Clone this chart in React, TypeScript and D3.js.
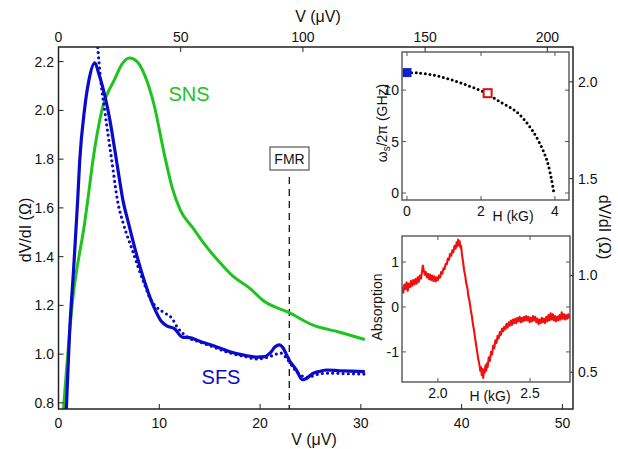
import React from 'react';
import * as d3 from 'd3';

// ---------- main data (V in µV, dV/dI in Ω) ----------
const snsV = [0.35, 0.5, 1.4, 2.6, 2.9, 3.4, 4.3, 5.6, 6.3, 7.05, 7.8, 8.5, 9.5, 10.5, 11.3, 12.1, 13.3, 14.5, 15.7, 17.3, 19.0, 20.3, 22.9, 25.2, 27.9, 30.4];
const snsR = [0.70, 0.78, 1.22, 1.54, 1.63, 1.79, 2.0, 2.13, 2.19, 2.215, 2.20, 2.15, 2.02, 1.82, 1.68, 1.59, 1.52, 1.45, 1.39, 1.32, 1.27, 1.22, 1.17, 1.12, 1.09, 1.06];

const sfsV = [0.7, 1.1, 1.5, 1.9, 2.1, 2.6, 3.0, 3.6, 4.0, 4.6, 5.1, 5.5, 6.0, 6.4, 6.9, 7.8, 8.6, 9.5, 10.2, 10.8, 11.5, 12.3, 13.0, 14.2, 15.0, 17.0, 18.5, 19.7, 20.5, 21.0, 21.5, 21.9, 22.2, 22.9, 23.6, 24.2, 24.6, 25.2, 26.0, 26.6, 27.9, 29.0, 30.4];
const sfsR = [0.70, 1.09, 1.35, 1.63, 1.79, 2.01, 2.12, 2.195, 2.15, 2.06, 1.96, 1.86, 1.73, 1.63, 1.545, 1.40, 1.29, 1.19, 1.135, 1.115, 1.105, 1.07, 1.068, 1.05, 1.04, 1.01, 0.995, 0.988, 0.99, 1.005, 1.03, 1.038, 1.03, 0.975, 0.935, 0.895, 0.90, 0.92, 0.93, 0.935, 0.932, 0.93, 0.928];

const fitV = [3.85, 4.2, 4.6, 5.3, 5.9, 6.4, 7.3, 8.5, 9.2, 9.8, 10.5, 11.2, 11.8, 12.8, 14.0, 15.0, 17.0, 18.5, 19.7, 20.5, 21.3, 22.0, 22.6, 23.2, 24.0, 24.6, 25.2, 26.0, 27.0, 28.5, 30.4];
const fitR = [2.28, 2.12, 1.995, 1.79, 1.62, 1.54, 1.43, 1.29, 1.22, 1.19, 1.17, 1.15, 1.11, 1.07, 1.05, 1.035, 1.005, 0.99, 0.98, 0.985, 0.995, 1.005, 0.985, 0.95, 0.915, 0.905, 0.91, 0.92, 0.922, 0.92, 0.918];

const fmrV = 22.9;

const bottomTicks = [0, 10, 20, 30, 40, 50];
const topTicks = [0, 50, 100, 150, 200];
const leftTicks = [0.8, 1.0, 1.2, 1.4, 1.6, 1.8, 2.0, 2.2];
const rightTicks = [0.5, 1.0, 1.5, 2.0];

// ---------- inset 1: spin-wave frequency vs H ----------
const omH = [0, 0.26, 0.71, 1.16, 1.61, 2.06, 2.51, 2.96, 3.32, 3.59, 3.78, 3.91, 3.97];
const omF = [11.68, 11.68, 11.46, 11.04, 10.49, 9.84, 8.87, 7.89, 6.44, 4.82, 3.2, 1.26, 0];
const blueSq = [0, 11.7];
const redSq = [2.18, 9.7];
const in1XTicks = [0, 2, 4];
const in1YTicks = [0, 5, 10];

// ---------- inset 2: FMR absorption vs H ----------
const absH = [1.805, 1.812, 1.818, 1.824, 1.830, 1.836, 1.842, 1.848, 1.854, 1.860, 1.866, 1.872, 1.878, 1.884, 1.890, 1.896, 1.902, 1.908, 1.914, 1.918, 1.922, 1.928, 1.934, 1.940, 1.946, 1.952, 1.958, 1.964, 1.970, 1.976, 1.982, 1.988, 1.994, 2.000, 2.006, 2.012, 2.018, 2.024, 2.030, 2.036, 2.042, 2.048, 2.054, 2.060, 2.066, 2.072, 2.078, 2.084, 2.090, 2.096, 2.102, 2.106, 2.110, 2.114, 2.118, 2.122, 2.126, 2.130, 2.136, 2.142, 2.148, 2.154, 2.160, 2.166, 2.172, 2.178, 2.184, 2.190, 2.196, 2.202, 2.208, 2.214, 2.220, 2.226, 2.230, 2.234, 2.238, 2.242, 2.246, 2.250, 2.254, 2.258, 2.262, 2.266, 2.270, 2.276, 2.282, 2.288, 2.294, 2.300, 2.306, 2.312, 2.318, 2.324, 2.330, 2.336, 2.342, 2.348, 2.354, 2.360, 2.366, 2.372, 2.378, 2.384, 2.390, 2.396, 2.402, 2.408, 2.414, 2.420, 2.426, 2.432, 2.438, 2.444, 2.450, 2.456, 2.462, 2.468, 2.474, 2.480, 2.486, 2.492, 2.498, 2.504, 2.510, 2.516, 2.522, 2.528, 2.534, 2.540, 2.546, 2.552, 2.558, 2.564, 2.570, 2.576, 2.582, 2.588, 2.594, 2.600, 2.606, 2.612, 2.618, 2.624, 2.630, 2.636, 2.642, 2.648, 2.654, 2.660, 2.666, 2.672, 2.678, 2.684, 2.690, 2.696, 2.702, 2.708, 2.714, 2.717];
const absA = [0.45, 0.32, 0.50, 0.40, 0.55, 0.36, 0.52, 0.44, 0.58, 0.47, 0.60, 0.50, 0.62, 0.52, 0.66, 0.56, 0.70, 0.63, 0.80, 0.92, 0.84, 0.72, 0.78, 0.66, 0.74, 0.62, 0.72, 0.60, 0.70, 0.58, 0.68, 0.57, 0.66, 0.60, 0.70, 0.66, 0.78, 0.74, 0.86, 0.84, 0.96, 0.95, 1.08, 1.05, 1.18, 1.14, 1.26, 1.22, 1.36, 1.30, 1.44, 1.35, 1.50, 1.38, 1.46, 1.32, 1.36, 1.18, 1.02, 0.82, 0.70, 0.52, 0.42, 0.22, 0.12, -0.06, -0.20, -0.38, -0.52, -0.70, -0.86, -1.02, -1.18, -1.30, -1.42, -1.34, -1.52, -1.38, -1.58, -1.40, -1.46, -1.30, -1.42, -1.26, -1.34, -1.12, -1.20, -1.00, -1.06, -0.86, -0.92, -0.74, -0.80, -0.64, -0.70, -0.56, -0.62, -0.48, -0.54, -0.44, -0.50, -0.38, -0.46, -0.34, -0.42, -0.30, -0.40, -0.28, -0.36, -0.26, -0.36, -0.24, -0.32, -0.22, -0.34, -0.24, -0.32, -0.22, -0.30, -0.20, -0.30, -0.22, -0.34, -0.24, -0.32, -0.20, -0.30, -0.22, -0.34, -0.26, -0.38, -0.28, -0.36, -0.24, -0.34, -0.26, -0.36, -0.22, -0.32, -0.18, -0.30, -0.14, -0.28, -0.16, -0.30, -0.20, -0.32, -0.22, -0.30, -0.18, -0.28, -0.12, -0.26, -0.16, -0.28, -0.18, -0.26, -0.16, -0.24, -0.20];
const in2XTicks = [2.0, 2.5];
const in2YTicks = [-1, 0, 1];

const GREEN = '#1ec41e';
const BLUE = '#0a0acb';
const RED = '#f01010';
const FONT = "'Liberation Sans', Arial, Helvetica, sans-serif";

function zip(a: number[], b: number[]): [number, number][] {
  return a.map((v, i) => [v, b[i]] as [number, number]);
}

export default function App() {
  const W = 618, H = 449;
  const L = 58.5, R = 573, T = 47, B = 409;

  const x = d3.scaleLinear().domain([0, 51.05]).range([L, R]);
  const xTop = d3.scaleLinear().domain([0, 210.5]).range([L, R]);
  const y = d3.scaleLinear().domain([0.775, 2.26]).range([B, T]);
  const yR = d3.scaleLinear().domain([0.31, 2.18]).range([B, T]);

  const line = d3.line<[number, number]>().x(d => x(d[0])).y(d => y(d[1])).curve(d3.curveMonotoneX);

  // inset 1
  const i1 = { l: 402, r: 569, t: 52, b: 200 };
  const x1 = d3.scaleLinear().domain([-0.135, 4.38]).range([i1.l, i1.r]);
  const y1 = d3.scaleLinear().domain([-0.68, 13.7]).range([i1.b, i1.t]);
  const line1 = d3.line<[number, number]>().x(d => x1(d[0])).y(d => y1(d[1])).curve(d3.curveCatmullRom);

  // inset 2
  const i2 = { l: 402, r: 570, t: 236, b: 382 };
  const x2 = d3.scaleLinear().domain([1.805, 2.717]).range([i2.l, i2.r]);
  const y2 = d3.scaleLinear().domain([-1.67, 1.58]).range([i2.b, i2.t]);
  const line2 = d3.line<[number, number]>().x(d => x2(d[0])).y(d => y2(d[1]));

  const tk = 5;
  const axisColor = '#222';
  const insetColor = '#555';

  return (
    <svg width={W} height={H} style={{ position: 'absolute', left: 0, top: 0, background: '#fff' }} fontFamily={FONT}>
      <defs>
        <clipPath id="mainClip"><rect x={L} y={T} width={R - L} height={B - T} /></clipPath>
        <clipPath id="in1Clip"><rect x={i1.l} y={i1.t} width={i1.r - i1.l} height={i1.b - i1.t} /></clipPath>
        <clipPath id="in2Clip"><rect x={i2.l} y={i2.t} width={i2.r - i2.l} height={i2.b - i2.t} /></clipPath>
      </defs>

      {/* main curves */}
      <g clipPath="url(#mainClip)">
        <line x1={x(fmrV)} x2={x(fmrV)} y1={177} y2={B} stroke="#111" strokeWidth={1.3} strokeDasharray="7 5" />
        <path d={line(zip(snsV, snsR)) || ''} fill="none" stroke={GREEN} strokeWidth={3} strokeLinejoin="round" />
        <path d={line(zip(fitV, fitR)) || ''} fill="none" stroke={BLUE} strokeWidth={3.2} strokeDasharray="0 5.2" strokeLinecap="round" />
        <path d={line(zip(sfsV, sfsR)) || ''} fill="none" stroke={BLUE} strokeWidth={3.2} strokeLinejoin="round" />
      </g>

      {/* FMR box */}
      <rect x={270} y={147} width={39} height={23} fill="#fff" stroke="#555" strokeWidth={1.2} />
      <text x={289.5} y={164} textAnchor="middle" fontSize={14} fill="#111">FMR</text>

      {/* curve labels */}
      <text x={189} y={101} textAnchor="middle" fontSize={20} fill={GREEN}>SNS</text>
      <text x={221} y={384} textAnchor="middle" fontSize={20} fill={BLUE}>SFS</text>

      {/* main frame */}
      <rect x={L} y={T} width={R - L} height={B - T} fill="none" stroke={axisColor} strokeWidth={1.5} />

      {/* bottom axis */}
      {bottomTicks.map(v => (
        <g key={'b' + v}>
          <line x1={x(v)} x2={x(v)} y1={B} y2={B - tk} stroke={axisColor} strokeWidth={1} />
          <text x={x(v)} y={428} textAnchor="middle" fontSize={14} fill="#111">{v}</text>
        </g>
      ))}
      <text x={314} y={445} textAnchor="middle" fontSize={16} fill="#111">V (μV)</text>

      {/* top axis */}
      {topTicks.map(v => (
        <g key={'t' + v}>
          <line x1={xTop(v)} x2={xTop(v)} y1={T} y2={T + tk} stroke={axisColor} strokeWidth={1} />
          <text x={xTop(v)} y={42} textAnchor="middle" fontSize={14} fill="#111">{v}</text>
        </g>
      ))}
      <text x={318} y={22} textAnchor="middle" fontSize={16} fill="#111">V (μV)</text>

      {/* left axis */}
      {leftTicks.map(v => (
        <g key={'l' + v}>
          <line x1={L} x2={L + tk} y1={y(v)} y2={y(v)} stroke={axisColor} strokeWidth={1} />
          <text x={54} y={y(v) + 5} textAnchor="end" fontSize={14} fill="#111">{v.toFixed(1)}</text>
        </g>
      ))}
      <text transform="translate(31,230) rotate(-90)" textAnchor="middle" fontSize={16} fill="#111">dV/dI (Ω)</text>

      {/* right axis */}
      {rightTicks.map(v => (
        <g key={'r' + v}>
          <line x1={R} x2={R - tk} y1={yR(v)} y2={yR(v)} stroke={axisColor} strokeWidth={1} />
          <text x={578} y={yR(v) + 5} textAnchor="start" fontSize={14} fill="#111">{v.toFixed(1)}</text>
        </g>
      ))}
      <text transform="translate(599,227) rotate(90)" textAnchor="middle" fontSize={16} fill="#111">dV/dI (Ω)</text>

      {/* ---------- inset 1 ---------- */}
      <rect x={i1.l} y={i1.t} width={i1.r - i1.l} height={i1.b - i1.t} fill="#fff" />
      <g clipPath="url(#in1Clip)">
        <path d={line1(zip(omH, omF)) || ''} fill="none" stroke="#000" strokeWidth={3} strokeDasharray="0 4.6" strokeLinecap="round" />
        <rect x={x1(blueSq[0]) - 4.5} y={y1(blueSq[1]) - 4.5} width={9} height={9} fill="#1020d0" />
        <rect x={x1(redSq[0]) - 4} y={y1(redSq[1]) - 4} width={8} height={8} fill="#fff" stroke="#e01010" strokeWidth={2} />
      </g>
      <rect x={i1.l} y={i1.t} width={i1.r - i1.l} height={i1.b - i1.t} fill="none" stroke={insetColor} strokeWidth={1.4} />
      {in1XTicks.map(v => (
        <g key={'i1x' + v}>
          <line x1={x1(v)} x2={x1(v)} y1={i1.b} y2={i1.b - 4} stroke={insetColor} />
          <line x1={x1(v)} x2={x1(v)} y1={i1.t} y2={i1.t + 4} stroke={insetColor} />
          <text x={x1(v)} y={216} textAnchor="middle" fontSize={14} fill="#111">{v}</text>
        </g>
      ))}
      {in1YTicks.map(v => (
        <g key={'i1y' + v}>
          <line x1={i1.l} x2={i1.l + 4} y1={y1(v)} y2={y1(v)} stroke={insetColor} />
          <line x1={i1.r} x2={i1.r - 4} y1={y1(v)} y2={y1(v)} stroke={insetColor} />
          <text x={399} y={y1(v) + 5} textAnchor="end" fontSize={14} fill="#111">{v}</text>
        </g>
      ))}
      <text x={513} y={221} textAnchor="middle" fontSize={14} fill="#111">H (kG)</text>
      <text transform="translate(387,123) rotate(-90)" textAnchor="middle" fontSize={14} fill="#111">
        <tspan>ω</tspan><tspan fontSize={10} dy={3}>s</tspan><tspan dy={-3}>/2π  (GHz)</tspan>
      </text>

      {/* ---------- inset 2 ---------- */}
      <rect x={i2.l} y={i2.t} width={i2.r - i2.l} height={i2.b - i2.t} fill="#fff" />
      <g clipPath="url(#in2Clip)">
        <path d={line2(zip(absH, absA)) || ''} fill="none" stroke={RED} strokeWidth={2.1} strokeLinejoin="round" />
      </g>
      <rect x={i2.l} y={i2.t} width={i2.r - i2.l} height={i2.b - i2.t} fill="none" stroke={insetColor} strokeWidth={1.4} />
      {in2XTicks.map(v => (
        <g key={'i2x' + v}>
          <line x1={x2(v)} x2={x2(v)} y1={i2.b} y2={i2.b - 4} stroke={insetColor} />
          <line x1={x2(v)} x2={x2(v)} y1={i2.t} y2={i2.t + 4} stroke={insetColor} />
          <text x={x2(v)} y={398} textAnchor="middle" fontSize={14} fill="#111">{v.toFixed(1)}</text>
        </g>
      ))}
      {in2YTicks.map(v => (
        <g key={'i2y' + v}>
          <line x1={i2.l} x2={i2.l + 4} y1={y2(v)} y2={y2(v)} stroke={insetColor} />
          <line x1={i2.r} x2={i2.r - 4} y1={y2(v)} y2={y2(v)} stroke={insetColor} />
          <text x={399} y={y2(v) + 5} textAnchor="end" fontSize={14} fill="#111">{v}</text>
        </g>
      ))}
      <text x={490} y={401} textAnchor="middle" fontSize={14} fill="#111">H (kG)</text>
      <text transform="translate(382,307) rotate(-90)" textAnchor="middle" fontSize={14} fill="#111">Absorption</text>
    </svg>
  );
}
